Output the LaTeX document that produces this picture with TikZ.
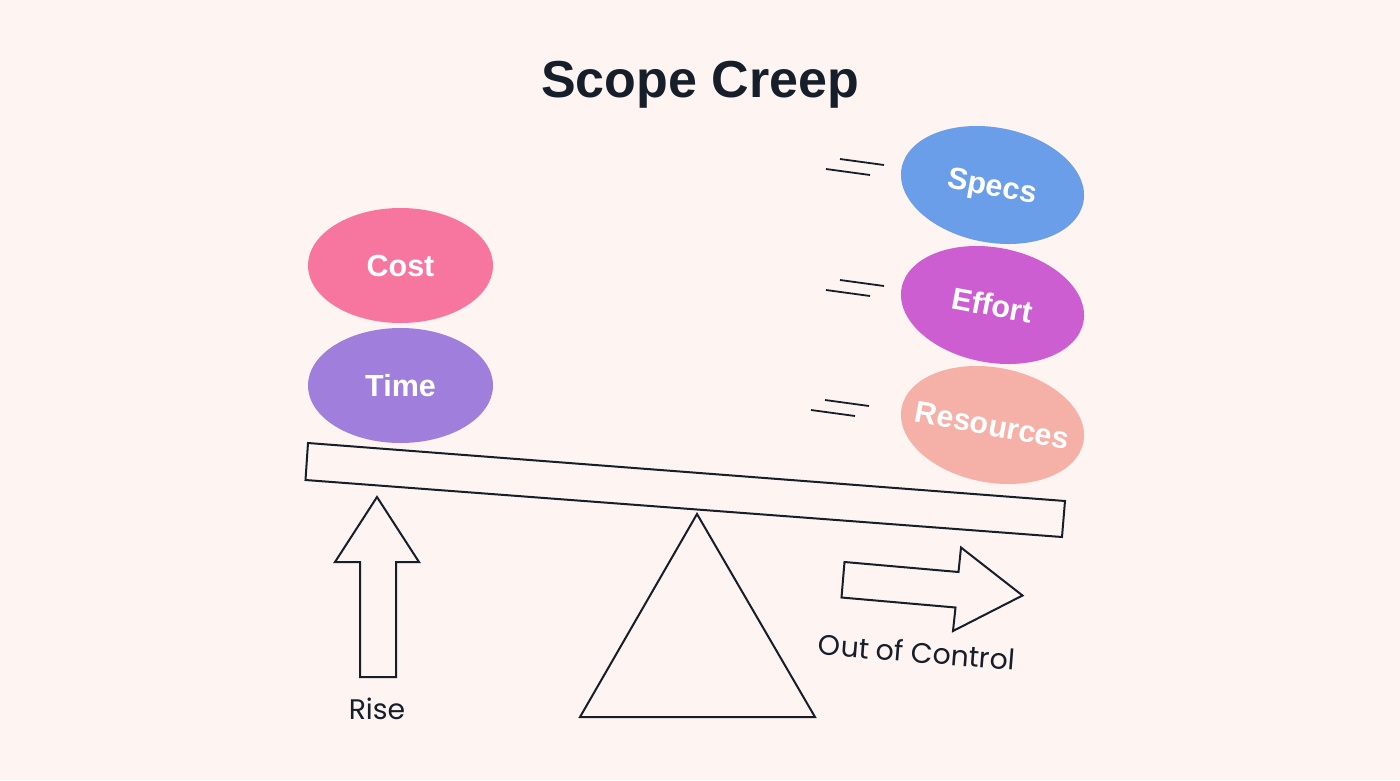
\documentclass[tikz,border=0pt]{standalone}
\usepackage{fontspec}
\setmainfont{Liberation Sans}
\newfontfamily\labelfont{Poppins}
\usepackage{xcolor}
\usepackage{tikz}
\usetikzlibrary{shapes.geometric}

\definecolor{paper}{HTML}{FEF4F2}
\definecolor{ink}{HTML}{151E29}
\definecolor{costpink}{HTML}{F776A0}
\definecolor{timepurple}{HTML}{A07EDC}
\definecolor{specsblue}{HTML}{6B9EE8}
\definecolor{effortviolet}{HTML}{CC5ED2}
\definecolor{respeach}{HTML}{F5B0A8}

% keeps the ellipse at its minimum size whatever the word
\newcommand{\blobtext}[1]{\makebox[0pt]{\smash{\raisebox{-11pt}{#1}}}}

\begin{document}
\begin{tikzpicture}[x=1pt,y=-1pt,line join=miter,node distance=120pt]
\tikzstyle{every blob}=[ellipse,minimum width=185pt,minimum height=115pt,inner sep=0pt,text=white,font=\fontsize{30.5}{34}\selectfont\bfseries]
\tikzstyle{tilted}=[every blob,rotate=-10.5]
\tikzstyle{outline}=[draw=ink,line width=2pt]
\tikzstyle{speed}=[draw=ink,line width=1.8pt]
\tikzstyle{caption}=[text=ink,font=\fontsize{28.3}{34}\selectfont\labelfont]

\fill[paper] (0,0) rectangle (1400,780);
\useasboundingbox (0,0) rectangle (1400,780);

\node[text=ink,font=\fontsize{52}{60}\selectfont\bfseries] (Title) at (700,85) {Scope Creep};

\node[every blob,fill=costpink]   (Cost) at (400.5,265.5) {\blobtext{Cost}};
\node[every blob,fill=timepurple] (Time) [below of=Cost]  {\blobtext{Time}};

\node[tilted,fill=specsblue]    (Specs)     at (992.5,185) {\blobtext{Specs}};
\node[tilted,fill=effortviolet] (Effort)    at (992.5,305) {\blobtext{Effort}};
\node[tilted,fill=respeach]     (Resources) at (992.5,425) {\blobtext{Resources}};

% beam and pivot
\draw[outline] (308,443) -- (1065,501) -- (1062,537) -- (305.5,480) -- cycle;
\draw[outline] (697,514) -- (815,717) -- (580,717) -- cycle;

% arrows
\draw[outline] (377,497) -- (419,562) -- (396,562) -- (396,677) -- (360,677) -- (360,562) -- (335,562) -- cycle;
\draw[outline] (844.5,562) -- (958.5,572) -- (961,547.5) -- (1022.5,595.5) -- (953,631) -- (955.5,607.5) -- (841.5,597.5) -- cycle;

\node[caption] (Rise) at (377,709) {Rise};
\node[caption,rotate=-4.5] (Control) at (917,652) {Out of Control};

% speed lines
\draw[speed] (840,159) -- (884,165);
\draw[speed] (826,169) -- (870,175);
\draw[speed] (840,280) -- (884,286);
\draw[speed] (826,290) -- (870,296);
\draw[speed] (825,400) -- (869,406);
\draw[speed] (811,410) -- (855,416);

\end{tikzpicture}
\end{document}
